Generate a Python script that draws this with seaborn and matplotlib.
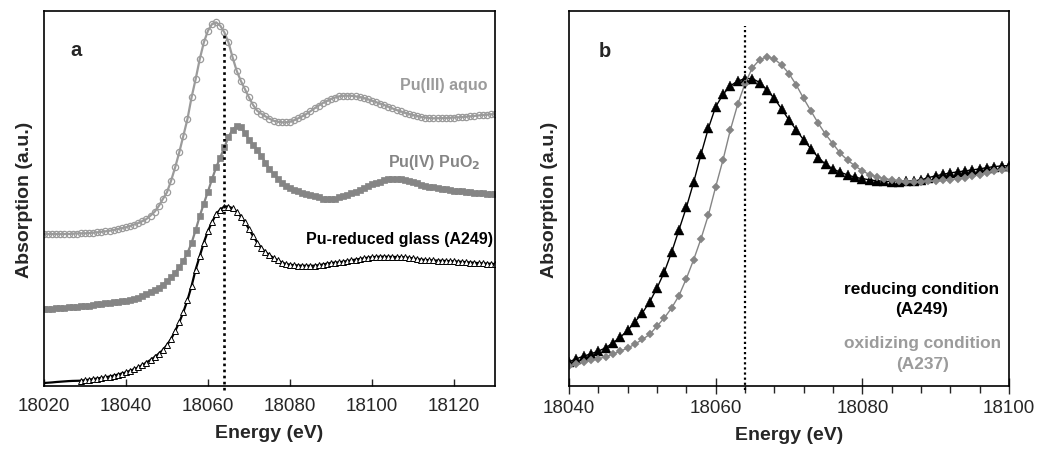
import numpy as np
import pandas as pd
import seaborn as sns
import matplotlib.pyplot as plt
from matplotlib.ticker import MultipleLocator

# panel a: energy grid and stacked spectra (arbitrary units, offset)
energy_a = np.arange(18020, 18131)
pu3_aquo = [152, 152, 152, 152, 152, 152, 152, 152.3, 152.5, 152.7,
            152.7, 153, 153.3, 153.7, 154.2, 154.7, 155.3, 156, 157, 157.8,
            158.7, 160, 161.5, 163, 165, 167, 170.5, 174.3, 180, 187,
            193.7, 205.3, 218.7, 233.7, 250.3, 267, 288.7, 307, 327, 343.7,
            355.3, 362, 363.7, 360.3, 353.7, 343.7, 328.7, 315.3, 305.3, 297,
            288.7, 281, 275.3, 272.3, 269.7, 267.3, 265.3, 264.3, 263.7, 263.7,
            264.3, 265.8, 267.7, 269.8, 272, 274.8, 277.7, 280.4, 283, 285,
            287, 288.5, 289.7, 290.2, 290.3, 290.2, 289.7, 289, 288, 286.8,
            285.3, 283.9, 282.4, 281, 279.3, 277.6, 276, 274.6, 273.3, 272,
            271, 270, 269, 268.5, 268, 267.7, 267.8, 267.9, 268, 268.2,
            268.5, 268.7, 269, 269.3, 269.7, 270.1, 270.6, 271, 271.3, 271.7,
            272]
pu4_puo2 = [77, 77.2, 77.5, 77.8, 78, 78.3, 78.6, 78.8, 79.2, 79.6,
            80, 80.5, 81, 81.6, 82.3, 83, 83.5, 84, 84.5, 85,
            85.5, 86.3, 87.3, 88.5, 90, 92, 94.5, 96.5, 98.5, 101.5,
            105, 109, 113.5, 118.7, 125, 133, 143, 156, 170, 182.5,
            194.5, 207, 218.7, 228.5, 238.7, 249, 256.5, 260, 259, 253,
            246.5, 241.5, 236, 230.3, 223.5, 217, 212, 207.3, 203.5, 200.5,
            198, 196.3, 194.7, 193.3, 192, 190.8, 189.7, 188.6, 187.5, 187,
            187, 187.5, 188.7, 190, 191.5, 193, 194.3, 196.3, 198.2, 200,
            201.8, 203.2, 204.5, 205.8, 206.8, 207.3, 207.3, 207, 206, 204.8,
            203.7, 202.6, 201.5, 200.5, 199.4, 198.7, 198, 197.4, 196.8, 196.2,
            195.5, 195, 194.6, 194.2, 193.8, 193.4, 193, 192.8, 192.5, 192.2,
            192]
glass_a249 = [3, 3.3, 3.6, 4, 4.3, 4.6, 4.9, 5.1, 5.2, 5.3,
              5.8, 6.3, 6.9, 7.5, 8.1, 8.7, 9.5, 10.4, 11.4, 12.5,
              13.7, 15.2, 16.9, 18.7, 21, 23.5, 26, 29, 32.3, 36,
              41, 47, 55, 63.7, 74, 86, 100, 116.5, 130, 143.5,
              155, 164, 172, 176.5, 179.5, 179.5, 177.7, 174.5, 169.5, 164,
              157, 150, 143.5, 138, 134, 131, 128, 125.7, 123.5, 122,
              121.3, 120.8, 120.5, 120.3, 120.2, 120.2, 120.3, 120.8, 121.5, 122.3,
              123, 123.4, 123.7, 124.3, 125, 125.7, 126.4, 127, 127.7, 128.3,
              128.8, 129.1, 129.3, 129.3, 129.2, 129.1, 129, 128.9, 128.7, 128.2,
              127.6, 127, 126.3, 126, 125.8, 125.6, 125.4, 125.2, 125, 124.9,
              124.7, 124.4, 124.1, 123.8, 123.5, 123.2, 122.9, 122.6, 122.4, 122.2,
              122]

# panel b: reducing vs oxidizing glass
energy_b = np.arange(18040, 18101)
reducing_a249 = [24.3, 27.3, 30, 32.3, 35, 38.3, 43.3, 49, 55.7, 64.3,
                 73.3, 84.3, 98.3, 114.3, 134.3, 156.7, 179, 204.3, 232.3, 258.3,
                 280, 292.3, 301, 305.7, 308.3, 308.3, 304.3, 296.7, 288.3, 277.7,
                 266.7, 256.7, 246.7, 237.7, 229, 222.3, 217.7, 214.3, 211.7, 209.3,
                 208, 206.7, 205.7, 205.3, 205, 205, 205.3, 205.7, 206.7, 209,
                 210.7, 212.3, 213.7, 214.7, 215.7, 216.7, 217.7, 219, 220, 220.7,
                 221]
oxidizing_a237 = [20, 21.7, 24, 25.7, 27.3, 29.3, 32, 35, 38, 42,
                  46.7, 51.7, 60, 68.3, 78.3, 90.7, 107.7, 126.7, 147.7, 171.3,
                  199.7, 226.7, 256.7, 282.3, 303.3, 319, 327.3, 330, 328, 321.7,
                  313.3, 301.7, 288.3, 275.7, 263.3, 252.3, 242.7, 233.3, 226.3, 220.7,
                  215.7, 212, 209.7, 208, 206.7, 205.7, 205, 205, 205, 205.3,
                  205.7, 206.3, 207, 208, 209, 210.3, 212, 214, 215.7, 217,
                  217.7]

edge_energy = 18064

sns.set_style("white")
plt.rcParams['font.family'] = ['Liberation Sans', 'DejaVu Sans']

LIGHT = '#9b9b9b'
MID = '#858585'

fig = plt.figure(figsize=(10.37, 4.52), dpi=100)
ax1 = fig.add_axes([0.0424, 0.1438, 0.4349, 0.8296])
ax2 = fig.add_axes([0.5487, 0.1438, 0.4243, 0.8296])

# ---- panel a
sns.lineplot(x=energy_a, y=pu3_aquo, ax=ax1, estimator=None, color=LIGHT, lw=1.6,
             marker='o', markersize=4.5, markerfacecolor='none', markeredgecolor=LIGHT,
             markeredgewidth=0.9)
sns.lineplot(x=energy_a, y=pu4_puo2, ax=ax1, estimator=None, color=MID, lw=1.6,
             marker='s', markersize=4.2, markerfacecolor=MID, markeredgecolor=MID,
             markeredgewidth=0.5)
sns.lineplot(x=energy_a, y=glass_a249, ax=ax1, estimator=None, color='black', lw=1.6,
             marker='^', markersize=4.5, markerfacecolor='white', markeredgecolor='black',
             markeredgewidth=0.7, markevery=slice(9, None))
ax1.plot([edge_energy, edge_energy], [-4, 353], color='black', lw=1.9,
         linestyle=(0, (1, 1.3)), clip_on=False)

ax1.set_xlim(18020, 18130)
ax1.set_ylim(0, 375)
ax1.xaxis.set_major_locator(MultipleLocator(20))
ax1.tick_params(axis='x', direction='in', length=5, width=1, labelsize=13.5, pad=8,
                bottom=True, top=False)
ax1.set_yticks([])
ax1.text(18026.5, 337, 'a', fontsize=14.5, fontweight='bold', ha='left', va='center')
ax1.text(18128.3, 302, 'Pu(III) aquo', color=LIGHT, fontsize=11.5, fontweight='bold',
         ha='right', va='center')
ax1.text(18126.5, 225, 'Pu(IV) PuO$_\\mathbf{2}$', color=MID, fontsize=11.5,
         fontweight='bold', ha='right', va='center')
ax1.text(18129.5, 148, 'Pu-reduced glass (A249)', color='black', fontsize=11.5,
         fontweight='bold', ha='right', va='center')

# ---- panel b
sns.lineplot(x=energy_b, y=reducing_a249, ax=ax2, estimator=None, color='black', lw=1.0,
             marker='^', markersize=6.5, markerfacecolor='black', markeredgecolor='black',
             markeredgewidth=0.3)
sns.lineplot(x=energy_b, y=oxidizing_a237, ax=ax2, estimator=None, color=MID, lw=1.0,
             marker='D', markersize=4.5, markerfacecolor=MID, markeredgecolor=MID,
             markeredgewidth=0.3)
ax2.plot([edge_energy, edge_energy], [-4, 361], color='black', lw=1.6,
         linestyle=(0, (1, 1.3)), clip_on=False)

ax2.set_xlim(18040, 18100)
ax2.set_ylim(0, 376)
ax2.xaxis.set_major_locator(MultipleLocator(20))
ax2.xaxis.set_minor_locator(MultipleLocator(4))
ax2.tick_params(axis='x', which='major', direction='inout', length=11, width=1,
                labelsize=13.5, pad=4, bottom=True, top=False)
ax2.tick_params(axis='x', which='minor', direction='out', length=5, width=1,
                bottom=True, top=False)
ax2.set_yticks([])
ax2.text(18044, 336, 'b', fontsize=14.5, fontweight='bold', ha='left', va='center')
ax2.text(18088.1, 88, 'reducing condition\n(A249)', color='black', fontsize=12.4,
         fontweight='bold', ha='center', va='center', linespacing=1.45)
ax2.text(18088.2, 33, 'oxidizing condition\n(A237)', color=LIGHT, fontsize=12.4,
         fontweight='bold', ha='center', va='center', linespacing=1.45)

for ax in (ax1, ax2):
    for sp in ax.spines.values():
        sp.set_color('black')
        sp.set_linewidth(1.2)
    ax.set_xlabel('Energy (eV)', fontsize=14, fontweight='bold', labelpad=7)
    ax.set_ylabel('Absorption (a.u.)', fontsize=14, fontweight='bold', labelpad=8)
    ax.set_xticklabels([f'{int(t)}' for t in ax.get_xticks()])

fig.savefig('out.png', dpi=100)
